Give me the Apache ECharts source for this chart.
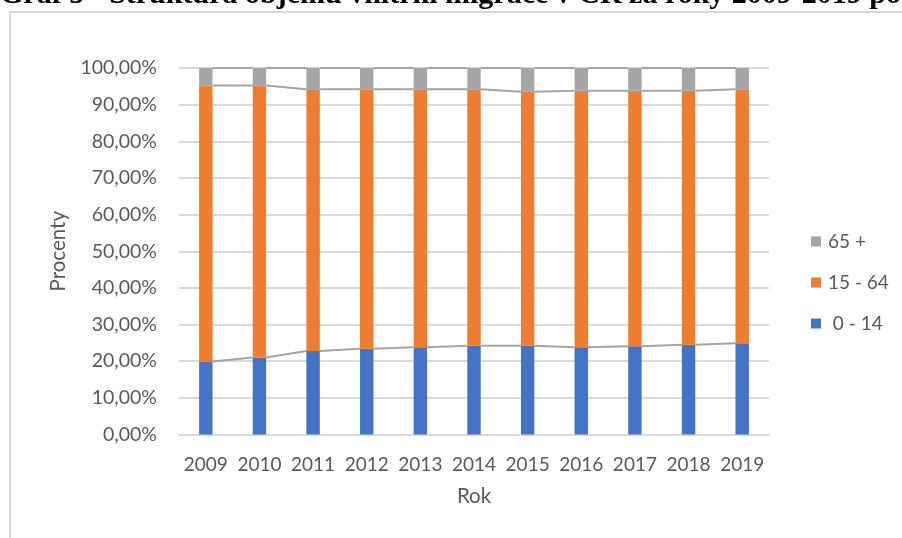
<!DOCTYPE html>
<html>
<head>
<meta charset="utf-8">
<script src="https://cdn.jsdelivr.net/npm/echarts@6/dist/echarts.min.js"></script>
<style>
  html, body { margin: 0; padding: 0; background: #fff; }
  #chart { width: 902px; height: 538px; }
</style>
</head>
<body>
<div id="chart"></div>
<script>
// Podíl věkových skupin na vnitřní migraci (v %)
const years = ['2009', '2010', '2011', '2012', '2013', '2014', '2015', '2016', '2017', '2018', '2019'];
const age0to14 = [19.9, 21.0, 22.8, 23.4, 23.8, 24.2, 24.2, 23.8, 24.1, 24.5, 24.9];
const age15to64 = [75.3, 74.2, 71.4, 70.8, 70.4, 70.0, 69.3, 70.0, 69.7, 69.3, 69.3];
const age65plus = [4.8, 4.8, 5.8, 5.8, 5.8, 5.8, 6.5, 6.2, 6.2, 6.2, 5.8];
const yTicks = [0, 10, 20, 30, 40, 50, 60, 70, 80, 90, 100];

const seriesNames = [' 0 - 14', '15 - 64', '65 +'];
const colors = ['#4472C4', '#ED7D31', '#A5A5A5'];
const BAR_RATIO = 0.25;
const FONT = 'Lato';
const TEXT_COLOR = '#595959';

// cumulative tops of each stacked segment per year
const stackTops = years.map((_, i) => [
  age0to14[i],
  age0to14[i] + age15to64[i],
  age0to14[i] + age15to64[i] + age65plus[i]
]);

const chart = echarts.init(document.getElementById('chart'), null, { renderer: 'canvas' });

chart.setOption({
  animation: false,
  textStyle: { fontFamily: FONT },
  graphic: [
    {
      type: 'rect',
      shape: { x: 10, y: 12, width: 1000, height: 600 },
      style: { fill: 'none', stroke: '#d9d9d9', lineWidth: 2 },
      silent: true
    },
    {
      type: 'text',
      x: 0,
      y: -4.5,
      style: {
        text: 'Graf 5 - Struktura objemu vnitřní migrace v ČR za roky 2009-2019 podle věku',
        font: 'bold 30px "Liberation Serif"',
        fill: '#000',
        verticalAlign: 'middle'
      },
      silent: true
    }
  ],
  legend: {
    orient: 'vertical',
    left: 806,
    top: 227,
    itemWidth: 10,
    itemHeight: 10,
    itemGap: 22,
    icon: 'rect',
    data: ['65 +', '15 - 64', ' 0 - 14'],
    textStyle: { fontFamily: FONT, fontSize: 19, color: TEXT_COLOR, padding: [0, 0, 0, 2] }
  },
  grid: { left: 179, right: 133, top: 68, bottom: 103.5 },
  xAxis: {
    type: 'category',
    data: years,
    name: 'Rok',
    nameLocation: 'middle',
    nameGap: 51,
    nameTextStyle: { fontFamily: FONT, fontSize: 20.5, color: TEXT_COLOR },
    axisTick: { show: false },
    axisLine: { lineStyle: { color: '#d9d9d9', width: 2 } },
    axisLabel: { margin: 21, fontFamily: FONT, fontSize: 19, color: TEXT_COLOR, interval: 0 }
  },
  yAxis: {
    type: 'value',
    min: yTicks[0],
    max: yTicks[yTicks.length - 1],
    interval: yTicks[1] - yTicks[0],
    name: 'Procenty',
    nameLocation: 'middle',
    nameGap: 110,
    nameTextStyle: { fontFamily: FONT, fontSize: 20.5, color: TEXT_COLOR },
    axisLine: { show: false },
    axisTick: { show: false },
    splitLine: { lineStyle: { color: '#d9d9d9', width: 2 } },
    axisLabel: {
      margin: 22,
      fontFamily: FONT,
      fontSize: 19.5,
      color: TEXT_COLOR,
      formatter: v => v.toFixed(2).replace('.', ',') + '%'
    }
  },
  series: [
    {
      name: seriesNames[0], type: 'bar', stack: 'vek', data: age0to14,
      barWidth: (BAR_RATIO * 100) + '%', itemStyle: { color: colors[0] }, z: 3
    },
    {
      name: seriesNames[1], type: 'bar', stack: 'vek', data: age15to64,
      barWidth: (BAR_RATIO * 100) + '%', itemStyle: { color: colors[1] }, z: 3
    },
    {
      name: seriesNames[2], type: 'bar', stack: 'vek', data: age65plus,
      barWidth: (BAR_RATIO * 100) + '%', itemStyle: { color: colors[2] }, z: 3
    },
    {
      // spojnice řad mezi sousedními sloupci
      type: 'custom',
      name: 'spojnice',
      z: 2,
      silent: true,
      data: years.slice(0, -1).map((_, i) => [i]),
      encode: { x: 0 },
      renderItem: (params, api) => {
        const i = api.value(0);
        const half = api.size([1, 0])[0] * BAR_RATIO / 2;
        const children = [0, 1, 2].map(k => {
          const p1 = api.coord([i, stackTops[i][k]]);
          const p2 = api.coord([i + 1, stackTops[i + 1][k]]);
          return {
            type: 'line',
            shape: { x1: p1[0] + half, y1: p1[1], x2: p2[0] - half, y2: p2[1] },
            style: { stroke: '#A5A5A5', lineWidth: 2 }
          };
        });
        return { type: 'group', children };
      }
    }
  ]
});
</script>
</body>
</html>
